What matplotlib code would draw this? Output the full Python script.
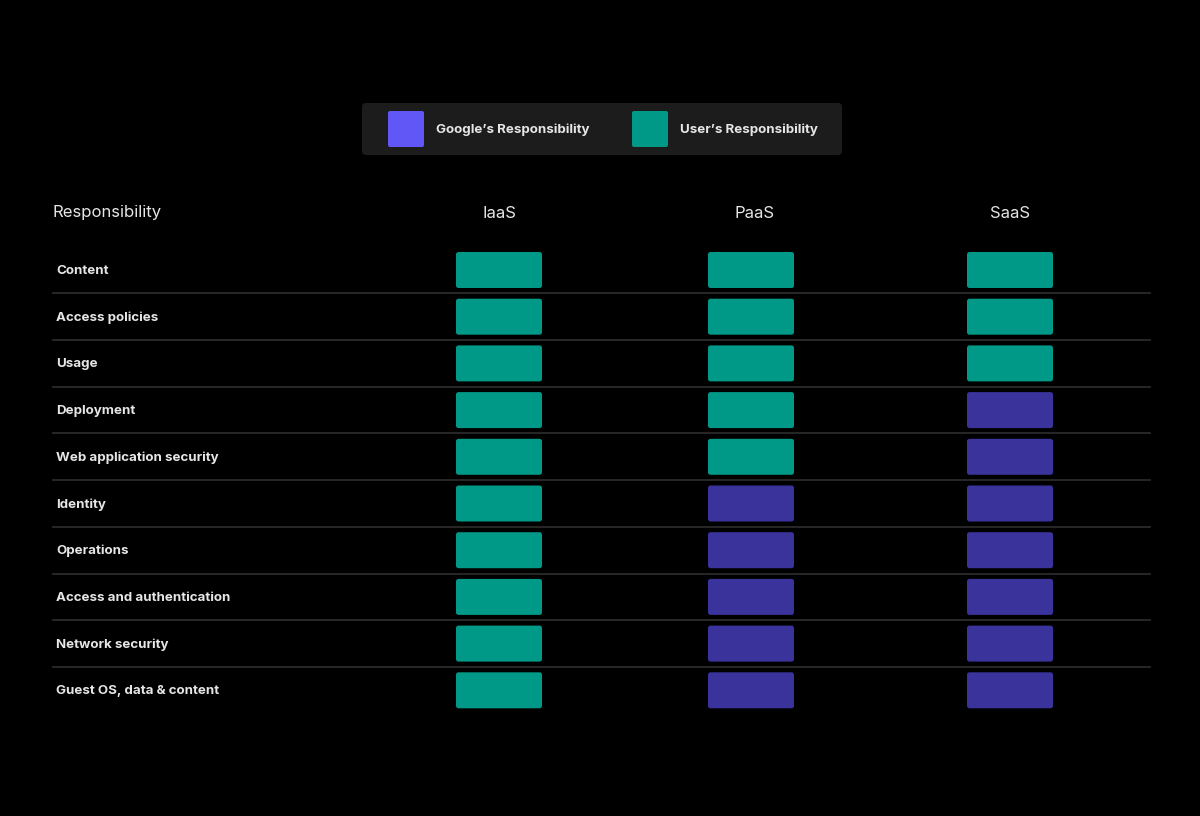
import matplotlib.pyplot as plt
from matplotlib.patches import FancyBboxPatch

# data
responsibilities = [
    "Content", "Access policies", "Usage", "Deployment",
    "Web application security", "Identity", "Operations",
    "Access and authentication", "Network security",
    "Guest OS, data & content",
]
models = ["IaaS", "PaaS", "SaaS"]
# U = user's responsibility, G = Google's responsibility
iaas = ["U", "U", "U", "U", "U", "U", "U", "U", "U", "U"]
paas = ["U", "U", "U", "U", "U", "G", "G", "G", "G", "G"]
saas = ["U", "U", "U", "G", "G", "G", "G", "G", "G", "G"]
legend_labels = ["Google\u2019s Responsibility", "User\u2019s Responsibility"]

BG = "#000000"
TEAL = "#009886"
PURPLE_CELL = "#3a339c"
PURPLE_LEG = "#6157f7"
TEXT = "#e6e6e6"

plt.rcParams['font.family'] = ['Inter', 'DejaVu Sans']

fig = plt.figure(figsize=(12, 8.16), dpi=100, facecolor=BG)
ax = fig.add_axes([0, 0, 1, 1])
ax.set_facecolor(BG)
ax.set_xlim(0, 1200)
ax.set_ylim(816, 0)
ax.axis("off")

# layout (pixels)
row_y0, row_h = 270, 46.7
col_x = [499, 751, 1010]
head_x = [499, 754, 1010]
box_w, box_h = 86, 36

colors = {"U": TEAL, "G": PURPLE_CELL}

# header
ax.text(53, 213, "Responsibility", color=TEXT, fontsize=12, va="center", ha="left")
for x, m in zip(head_x, models):
    ax.text(x, 213, m, color=TEXT, fontsize=12, va="center", ha="center")

for i, name in enumerate(responsibilities):
    y = row_y0 + i * row_h
    ax.text(56, y + 1, name, color=TEXT, fontsize=9.6, fontweight="bold",
            va="center", ha="left")
    for x, col in zip(col_x, [iaas, paas, saas]):
        ax.add_patch(FancyBboxPatch((x - box_w / 2, y - box_h / 2), box_w, box_h,
                                    boxstyle="round,pad=0,rounding_size=2.5",
                                    fc=colors[col[i]], ec="none"))
    if i < len(responsibilities) - 1:
        ax.plot([53, 1150], [y + row_h / 2, y + row_h / 2], color="#2b2b2b", lw=1.3)

# legend box
ax.add_patch(FancyBboxPatch((362, 103), 480, 52, boxstyle="round,pad=0,rounding_size=4",
                            fc="#1c1c1c", ec="none"))
for sx, tx, c, lab in zip([388, 632], [436, 680], [PURPLE_LEG, TEAL], legend_labels):
    ax.add_patch(FancyBboxPatch((sx, 111), 36, 36, boxstyle="round,pad=0,rounding_size=2",
                                fc=c, ec="none"))
    ax.text(tx, 130, lab, color=TEXT, fontsize=9.6, fontweight="bold",
            va="center", ha="left")

fig.savefig("out.png", dpi=100, facecolor=BG)
